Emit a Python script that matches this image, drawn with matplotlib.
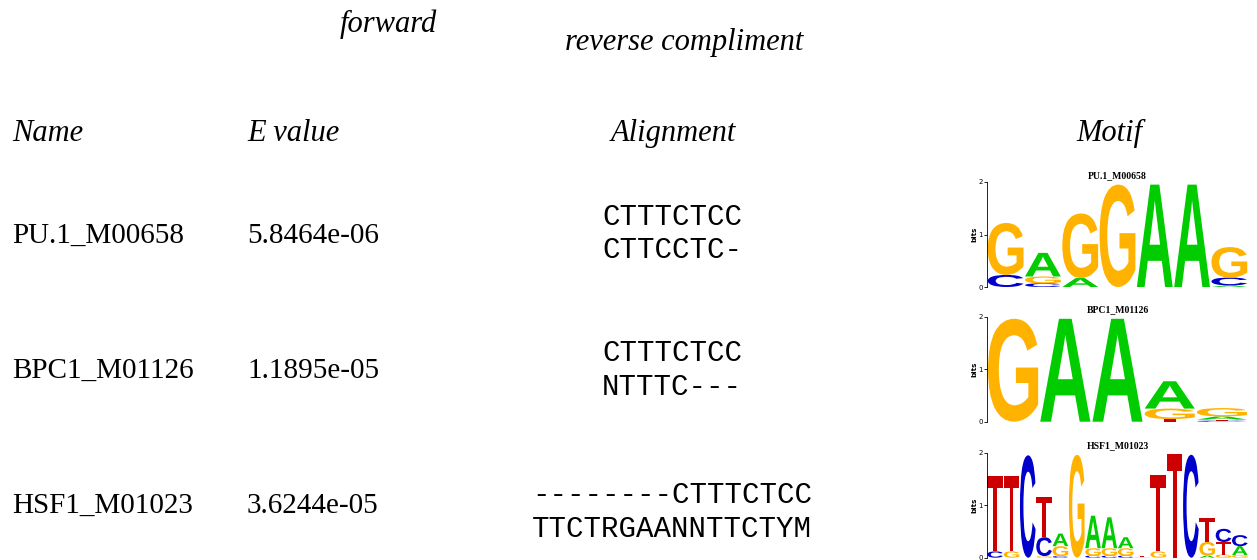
import matplotlib
matplotlib.use("Agg")
import matplotlib.pyplot as plt
from matplotlib.textpath import TextPath
from matplotlib.patches import PathPatch
from matplotlib.font_manager import FontProperties
from matplotlib.transforms import Affine2D

W, H = 1257, 560

# table contents
motif_names = ["PU.1_M00658", "BPC1_M01126", "HSF1_M01023"]
e_values = ["5.8464e-06", "1.1895e-05", "3.6244e-05"]
align_query = ["CTTTCTCC", "CTTTCTCC", "--------CTTTCTCC"]
align_motif = ["CTTCCTC-", "NTTTC---", "TTCTRGAANNTTCTYM"]

# logo stacks, bottom to top: (letter, bits)
pu1_logo = [
    [("C", 0.23), ("G", 0.99)],
    [("C", 0.07), ("G", 0.13), ("A", 0.45)],
    [("A", 0.17), ("G", 1.23)],
    [("G", 1.95)],
    [("A", 1.95)],
    [("A", 1.95)],
    [("A", 0.03), ("C", 0.15), ("G", 0.58)],
]
bpc1_logo = [
    [("G", 1.96)],
    [("A", 1.96)],
    [("A", 1.96)],
    [("T", 0.05), ("G", 0.2), ("A", 0.52)],
    [("C", 0.02), ("T", 0.02), ("A", 0.06), ("G", 0.16)],
]
hsf1_logo = [
    [("C", 0.12), ("T", 1.43)],
    [("G", 0.12), ("T", 1.43)],
    [("C", 1.95)],
    [("G", 0.03), ("C", 0.36), ("T", 0.77)],
    [("C", 0.03), ("G", 0.19), ("A", 0.24)],
    [("G", 1.96)],
    [("C", 0.04), ("G", 0.14), ("A", 0.62)],
    [("C", 0.04), ("G", 0.14), ("A", 0.59)],
    [("C", 0.04), ("G", 0.14), ("A", 0.21)],
    [("G", 0.01), ("T", 0.02)],
    [("G", 0.12), ("T", 1.45)],
    [("T", 1.98)],
    [("C", 1.96)],
    [("A", 0.04), ("G", 0.26), ("T", 0.46)],
    [("G", 0.06), ("T", 0.24), ("C", 0.25)],
    [("G", 0.05), ("A", 0.17), ("C", 0.21)],
]
logos = [pu1_logo, bpc1_logo, hsf1_logo]

base_colors = {"A": "#00CC00", "C": "#0000CC", "G": "#FFB300", "T": "#CC0000"}
letter_font = FontProperties(family="Liberation Sans", weight="bold")

serif = "Liberation Serif"
mono = "Liberation Mono"


def fx(x):
    return x / W


def fy(y):
    return 1 - y / H


def draw_letter(ax, ch, x0, y0, w, h, color):
    tp = TextPath((0, 0), ch, size=1, prop=letter_font)
    ext = tp.get_extents()
    tr = Affine2D().translate(-ext.x0, -ext.y0).scale(w / ext.width, h / ext.height).translate(x0, y0)
    ax.add_patch(PathPatch(tr.transform_path(tp), fc=color, ec="none", lw=0, clip_on=False))


fig = plt.figure(figsize=(W / 100, H / 100), dpi=100)

# top labels
fig.text(fx(388), fy(32), "forward", family=serif, style="italic", fontsize=22, ha="center", va="baseline")
fig.text(fx(684), fy(50), "reverse compliment", family=serif, style="italic", fontsize=22, ha="center", va="baseline")

# header row
fig.text(fx(12), fy(141), "Name", family=serif, style="italic", fontsize=22, ha="left", va="baseline")
fig.text(fx(247), fy(141), "E value", family=serif, style="italic", fontsize=22, ha="left", va="baseline")
fig.text(fx(673), fy(141), "Alignment", family=serif, style="italic", fontsize=22, ha="center", va="baseline")
fig.text(fx(1109), fy(141), "Motif", family=serif, style="italic", fontsize=22, ha="center", va="baseline")

row_base = [243, 378, 513]
align_base = [(225, 258), (361, 395), (503, 537)]
for i in range(3):
    fig.text(fx(12), fy(row_base[i]), motif_names[i], family=serif, fontsize=21, ha="left", va="baseline")
    fig.text(fx(247), fy(row_base[i]), e_values[i], family=serif, fontsize=21, ha="left", va="baseline")
    fig.text(fx(672), fy(align_base[i][0]), align_query[i], family=mono, fontsize=21, ha="center", va="baseline")
    fig.text(fx(672), fy(align_base[i][1]), align_motif[i], family=mono, fontsize=21, ha="center", va="baseline")

# motif logos
logo_zero = [287, 421.7, 557.7]
for i, logo in enumerate(logos):
    left, right = 987, 1248
    ax = fig.add_axes([fx(left), fy(logo_zero[i]), (right - left) / W, 105 / H])
    n = len(logo)
    for j, stack in enumerate(logo):
        y = 0
        for ch, h in stack:
            draw_letter(ax, ch, j + 0.02, y, 0.96, h, base_colors[ch])
            y += h
    ax.set_xlim(0, n)
    ax.set_ylim(0, 2)
    for s in ["top", "right", "bottom"]:
        ax.spines[s].set_visible(False)
    ax.spines["left"].set_linewidth(0.6)
    ax.set_xticks([])
    ax.set_yticks([0, 1, 2])
    ax.tick_params(axis="y", length=2, width=0.6, pad=1, labelsize=5)
    ax.set_ylabel("bits", fontsize=5, fontweight="bold", labelpad=1)
    ax.set_title(motif_names[i], family=serif, fontsize=7, fontweight="bold", pad=3)

fig.savefig("out.png", dpi=100)
